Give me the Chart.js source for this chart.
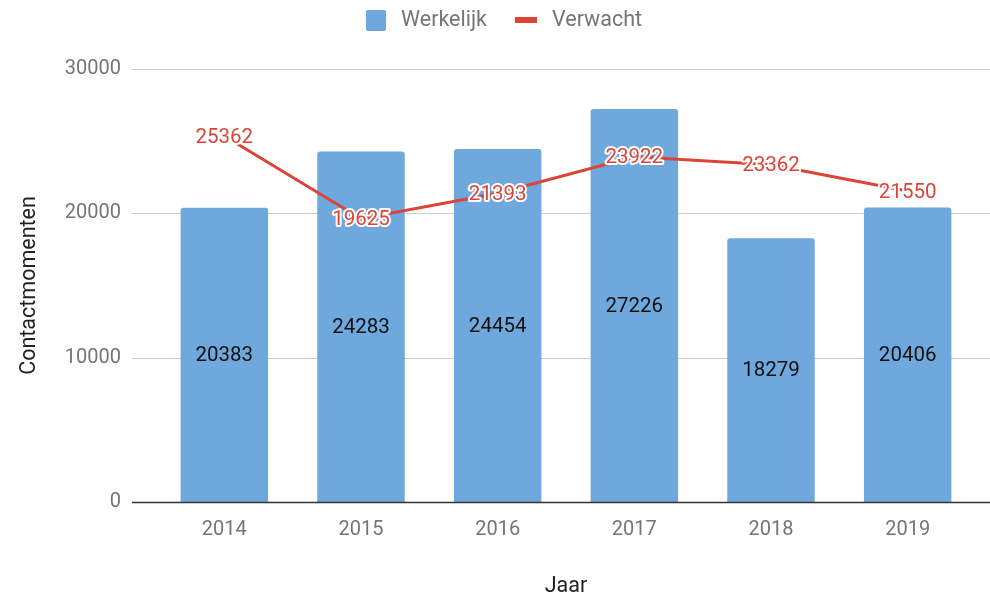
<!DOCTYPE html>
<html>
<head>
<meta charset="utf-8">
<script src="https://cdn.jsdelivr.net/npm/chart.js@4.4.1/dist/chart.umd.min.js"></script>
<style>
  html, body { margin: 0; padding: 0; background: #fff; }
  #wrap { width: 990px; height: 596px; position: relative; }
</style>
</head>
<body>
<div id="wrap"><canvas id="chart"></canvas></div>
<script>
// data
const years = ['2014', '2015', '2016', '2017', '2018', '2019'];
const werkelijk = [20383, 24283, 24454, 27226, 18279, 20406];
const verwacht = [25362, 19625, 21393, 23922, 23362, 21550];
const yTicks = [0, 10000, 20000, 30000];

const BLUE = '#6fa8dc';
const RED = '#db4437';
const FONT = 'Roboto, "Noto Sans", sans-serif';

// horizontal grid lines, wider than the plot area like the original
const gridPlugin = {
    id: 'wideGrid',
    beforeDatasetsDraw(chart) {
        const ctx = chart.ctx, y = chart.scales.y;
        ctx.save();
        yTicks.forEach(v => {
            if (v === 0) return;
            const py = Math.round(y.getPixelForValue(v)) + 0.5;
            ctx.strokeStyle = '#cccccc';
            ctx.lineWidth = 1;
            ctx.beginPath();
            ctx.moveTo(132, py);
            ctx.lineTo(chart.width, py);
            ctx.stroke();
        });
        ctx.restore();
    },
    afterDatasetsDraw(chart) {
        // dark base line at zero, drawn over the bars
        const ctx = chart.ctx, y = chart.scales.y;
        const py = Math.round(y.getPixelForValue(0)) + 0.5;
        ctx.save();
        ctx.strokeStyle = '#333333';
        ctx.lineWidth = 1.5;
        ctx.beginPath();
        ctx.moveTo(132, py);
        ctx.lineTo(chart.width, py);
        ctx.stroke();
        ctx.restore();
    }
};

// value labels: centred in bars, red with white halo on the line
const labelPlugin = {
    id: 'valueLabels',
    afterDraw(chart) {
        const ctx = chart.ctx;
        ctx.save();
        ctx.font = '20.5px ' + FONT;
        ctx.textAlign = 'center';
        ctx.textBaseline = 'middle';

        chart.getDatasetMeta(1).data.forEach((bar, i) => {
            ctx.fillStyle = '#111111';
            ctx.fillText(String(werkelijk[i]), bar.x, (bar.y + bar.base) / 2 + 1);
        });

        chart.getDatasetMeta(0).data.forEach((pt, i) => {
            const t = String(verwacht[i]);
            ctx.lineJoin = 'round';
            ctx.strokeStyle = '#ffffff';
            ctx.lineWidth = 4;
            ctx.strokeText(t, pt.x, pt.y + 1.5);
            ctx.fillStyle = RED;
            ctx.fillText(t, pt.x, pt.y + 1.5);
        });
        ctx.restore();
    }
};

// legend at the top: square for the bars, short thick line for the line series
const legendPlugin = {
    id: 'topLegend',
    afterDraw(chart) {
        const ctx = chart.ctx;
        ctx.save();
        ctx.font = '21.5px ' + FONT;
        ctx.textBaseline = 'middle';
        const names = [chart.data.datasets[1].label, chart.data.datasets[0].label];
        const w1 = ctx.measureText(names[0]).width;
        const w2 = ctx.measureText(names[1]).width;
        const total = 20 + 15 + w1 + 28 + 22 + 15 + w2;
        let x = Math.round(chart.width / 2 + 9 - total / 2);
        const cy = 20;

        ctx.fillStyle = BLUE;
        ctx.beginPath();
        ctx.roundRect(x, cy - 10, 20, 21, 2);
        ctx.fill();
        x += 35;
        ctx.fillStyle = '#757575';
        ctx.fillText(names[0], x, cy + 1);
        x += w1 + 28;

        ctx.fillStyle = RED;
        ctx.fillRect(x, cy - 3, 22, 6);
        x += 37;
        ctx.fillStyle = '#757575';
        ctx.fillText(names[1], x, cy + 1);
        ctx.restore();
    }
};

const chart = new Chart(document.getElementById('chart'), {
    type: 'bar',
    data: {
        labels: years,
        datasets: [
            {
                type: 'line',
                label: 'Verwacht',
                data: verwacht,
                borderColor: RED,
                backgroundColor: RED,
                borderWidth: 3,
                pointRadius: 0,
                tension: 0,
                order: 0
            },
            {
                type: 'bar',
                label: 'Werkelijk',
                data: werkelijk,
                backgroundColor: BLUE,
                borderRadius: { topLeft: 3, topRight: 3 },
                borderSkipped: 'bottom',
                barPercentage: 0.64,
                categoryPercentage: 1,
                order: 1
            }
        ]
    },
    options: {
        responsive: true,
        maintainAspectRatio: false,
        animation: false,
        layout: { padding: { top: 69, right: 14, left: 0, bottom: 0 } },
        plugins: {
            legend: { display: false },
            tooltip: { enabled: false }
        },
        scales: {
            x: {
                grid: { display: false, drawTicks: false },
                border: { display: false },
                ticks: { color: '#757575', font: { family: FONT, size: 20 }, padding: 16 },
                title: {
                    display: true,
                    text: 'Jaar',
                    color: '#222222',
                    font: { family: FONT, size: 21.5 },
                    padding: { top: 0, bottom: -4 }
                },
                afterFit(scale) { scale.height = 94; }
            },
            y: {
                min: 0,
                max: 30000,
                grid: { display: false, drawTicks: false },
                border: { display: false },
                afterBuildTicks(scale) { scale.ticks = yTicks.map(v => ({ value: v })); },
                ticks: {
                    color: '#757575',
                    font: { family: FONT, size: 20 },
                    padding: 35,
                    callback: v => String(v)
                },
                title: {
                    display: true,
                    text: 'Contactmomenten',
                    color: '#222222',
                    font: { family: FONT, size: 21.5 },
                    padding: { top: 17, bottom: 0 }
                },
                afterFit(scale) { scale.width = 156; }
            }
        }
    },
    plugins: [gridPlugin, labelPlugin, legendPlugin]
});
</script>
</body>
</html>
